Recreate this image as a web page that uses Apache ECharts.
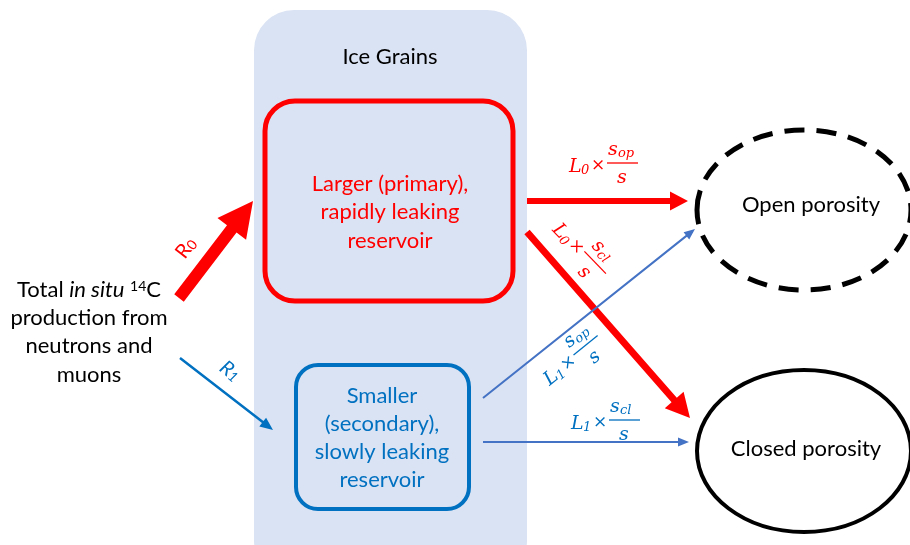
<!DOCTYPE html>
<html><head><meta charset="utf-8">
<script src="https://cdn.jsdelivr.net/npm/echarts@6/dist/echarts.min.js"></script>
<style>html,body{margin:0;padding:0;background:#fff}#c{width:910px;height:545px}</style>
</head><body><div id="c"></div>
<script>
// ---------- content ----------
const panelTitle = 'Ice Grains';
const sourceLines = ['Total {i|in situ} {sup|14}C', 'production from', 'neutrons and', 'muons'];
const primaryLines = ['Larger (primary),', 'rapidly leaking', 'reservoir'];
const secondaryLines = ['Smaller', '(secondary),', 'slowly leaking', 'reservoir'];
const sinkNames = ['Open porosity', 'Closed porosity'];
const rateSubs = ['0', '1'];
const leakMainSubs = ['0', '0', '1', '1'];
const leakNumSubs = ['op', 'cl', 'op', 'cl'];

// ---------- diagram geometry (diagram units, x right, y down) ----------
const panelRect = [254, 10, 273, 570];
const reservoirRects = [[265, 101, 248, 200], [296, 365, 173, 144]];
const sinkEllipses = [[804, 210, 107, 80], [804, 451, 107, 81]];
const flowSegments = [
  [179, 298, 253, 201],
  [180, 358, 273, 430],
  [527, 201, 688, 201],
  [527, 232, 690, 418],
  [483, 398, 695, 229],
  [483, 442, 689, 442]
];
const titleAnchor = [390, 57];
const sourceAnchors = [[89, 290], [89, 318], [89, 346], [89, 375]];
const primaryAnchors = [[390, 184], [390, 212], [390, 241]];
const secondaryAnchors = [[382, 396], [382, 424], [382, 452], [382, 480]];
const sinkAnchors = [[811, 205], [806, 449]];
const rateAnchors = [[186, 248, 52], [230, 371, -38]];
const leakAnchors = [[569, 163, 0], [558, 224, -46], [544, 379, 39], [571, 420, 0]];

// ---------- styles ----------
const RED = '#ff0000', BLUE = '#0070c0', LBLUE = '#4472c4', INK = '#000000';
const SANS = 'Lato', MATH = 'DejaVu Serif';
const reservoirColors = [RED, BLUE];
const flowStyles = [
  {c: RED, w: 12, hl: 35, hw: 36},
  {c: BLUE, w: 2.5, hl: 13, hw: 11},
  {c: RED, w: 6, hl: 18, hw: 19},
  {c: RED, w: 7, hl: 24, hw: 25},
  {c: LBLUE, w: 2, hl: 11, hw: 9},
  {c: LBLUE, w: 2, hl: 11, hw: 9}
];
const rateColors = [RED, BLUE];
const leakColors = [RED, RED, BLUE, BLUE];

function arrowPoints(a, b, shaft, headLen, headW) {
  const dx = b[0] - a[0], dy = b[1] - a[1], L = Math.hypot(dx, dy);
  const ux = dx / L, uy = dy / L, nx = -uy, ny = ux;
  const bx = b[0] - ux * headLen, by = b[1] - uy * headLen;
  const h = shaft / 2, w = headW / 2;
  return [[a[0] + nx * h, a[1] + ny * h], [bx + nx * h, by + ny * h], [bx + nx * w, by + ny * w], b,
          [bx - nx * w, by - ny * w], [bx - nx * h, by - ny * h], [a[0] - nx * h, a[1] - ny * h]];
}

function textSeries(anchors, lines, color, size, rich) {
  return {
    type: 'custom', coordinateSystem: 'cartesian2d', silent: true, z: 5,
    data: anchors,
    renderItem(params, api) {
      const p = api.coord([api.value(0), api.value(1)]);
      return {type: 'text', x: p[0], y: p[1], style: {
        text: lines[params.dataIndex], fill: color, fontSize: size, fontFamily: SANS,
        align: 'center', verticalAlign: 'middle', rich: rich || {}
      }};
    }
  };
}

const chart = echarts.init(document.getElementById('c'), null, {renderer: 'canvas'});
chart.setOption({
  animation: false,
  grid: {left: 0, right: 0, top: 0, bottom: 0},
  xAxis: {type: 'value', min: 0, max: 910, show: false},
  yAxis: {type: 'value', min: 0, max: 545, inverse: true, show: false},
  series: [
    { // ice grain panel
      type: 'custom', coordinateSystem: 'cartesian2d', silent: true, z: 1, clip: false,
      data: [panelRect],
      renderItem(params, api) {
        const a = api.coord([api.value(0), api.value(1)]);
        const b = api.coord([api.value(0) + api.value(2), api.value(1) + api.value(3)]);
        return {type: 'rect', shape: {x: a[0], y: a[1], width: b[0] - a[0], height: b[1] - a[1], r: 40},
          style: {fill: '#dae3f3'}};
      }
    },
    { // reservoirs
      type: 'custom', coordinateSystem: 'cartesian2d', silent: true, z: 2,
      data: reservoirRects,
      renderItem(params, api) {
        const a = api.coord([api.value(0), api.value(1)]);
        const b = api.coord([api.value(0) + api.value(2), api.value(1) + api.value(3)]);
        const i = params.dataIndex;
        return {type: 'rect', shape: {x: a[0], y: a[1], width: b[0] - a[0], height: b[1] - a[1], r: i === 0 ? 30 : 22},
          style: {fill: 'transparent', stroke: reservoirColors[i], lineWidth: i === 0 ? 5 : 4}};
      }
    },
    { // porosity sinks
      type: 'custom', coordinateSystem: 'cartesian2d', silent: true, z: 2, clip: false,
      data: sinkEllipses,
      renderItem(params, api) {
        const c = api.coord([api.value(0), api.value(1)]);
        const e = api.coord([api.value(0) + api.value(2), api.value(1) + api.value(3)]);
        const i = params.dataIndex;
        return {type: 'ellipse', shape: {cx: c[0], cy: c[1], rx: e[0] - c[0], ry: e[1] - c[1]},
          style: {fill: 'transparent', stroke: INK, lineWidth: i === 0 ? 5 : 4, lineDash: i === 0 ? [20, 12] : null}};
      }
    },
    { // flows
      type: 'custom', coordinateSystem: 'cartesian2d', silent: true, z: 3, clip: false,
      data: flowSegments,
      renderItem(params, api) {
        const a = api.coord([api.value(0), api.value(1)]);
        const b = api.coord([api.value(2), api.value(3)]);
        const s = flowStyles[params.dataIndex];
        return {type: 'polygon', shape: {points: arrowPoints(a, b, s.w, s.hl, s.hw)}, style: {fill: s.c}};
      }
    },
    textSeries([titleAnchor], [panelTitle], INK, 22),
    textSeries(sourceAnchors, sourceLines, INK, 22, {
      i: {fontStyle: 'italic', fontSize: 22, fontFamily: SANS, fill: INK},
      sup: {fontSize: 14, fontFamily: SANS, fill: INK, verticalAlign: 'top'}
    }),
    textSeries(primaryAnchors, primaryLines, RED, 22),
    textSeries(secondaryAnchors, secondaryLines, BLUE, 22),
    textSeries(sinkAnchors, sinkNames, INK, 22),
    { // rate labels
      type: 'custom', coordinateSystem: 'cartesian2d', silent: true, z: 5,
      data: rateAnchors,
      renderItem(params, api) {
        const i = params.dataIndex;
        const p = api.coord([api.value(0), api.value(1)]);
        const st = i === 0 ? 'normal' : 'italic';
        return {type: 'text', x: p[0], y: p[1], rotation: api.value(2) * Math.PI / 180, style: {
          text: '{r|R}{s|' + rateSubs[i] + '}', align: 'center', verticalAlign: 'middle',
          rich: {
            r: {fontSize: 20, fontFamily: SANS, fontStyle: st, fill: rateColors[i]},
            s: {fontSize: 14, fontFamily: SANS, fontStyle: st, fill: rateColors[i], verticalAlign: 'bottom'}
          }
        }};
      }
    },
    { // leak labels  L × s_x / s
      type: 'custom', coordinateSystem: 'cartesian2d', silent: true, z: 5, clip: false,
      data: leakAnchors,
      renderItem(params, api) {
        const i = params.dataIndex;
        const p = api.coord([api.value(0), api.value(1)]);
        const color = leakColors[i];
        const it = (t, x, y, size, align) => ({type: 'text', x, y, style: {
          text: t, fill: color, fontSize: size, fontFamily: MATH, fontStyle: 'italic',
          align: align || 'left', verticalAlign: 'middle'}});
        return {type: 'group', x: p[0], y: p[1], rotation: api.value(2) * Math.PI / 180, children: [
          it('L', 0, 4, 19),
          it(leakMainSubs[i], 12, 8, 13),
          {type: 'text', x: 22, y: 3, style: {text: '×', fill: color, fontSize: 17, fontFamily: MATH,
            align: 'left', verticalAlign: 'middle'}},
          {type: 'line', shape: {x1: 38, y1: 0, x2: 69, y2: 0}, style: {stroke: color, lineWidth: 1.3}},
          it('s', 39, -13, 19),
          it(leakNumSubs[i], 49, -9, 13),
          it('s', 53, 15, 19, 'center')
        ]};
      }
    }
  ]
});
</script></body></html>
